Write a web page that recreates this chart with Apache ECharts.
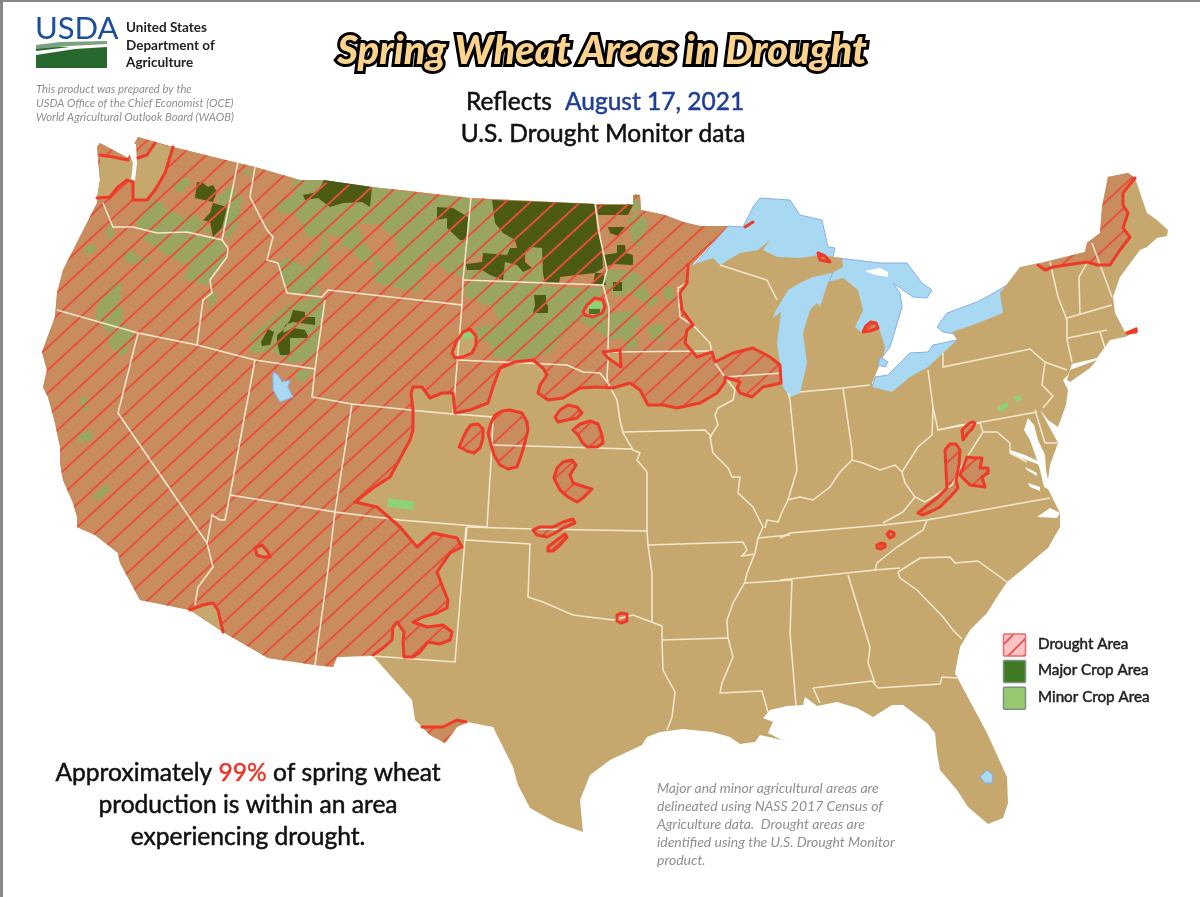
<!DOCTYPE html>
<html><head><meta charset="utf-8">
<script src="https://cdn.jsdelivr.net/npm/echarts@6/dist/echarts.min.js"></script>
<style>html,body{margin:0;padding:0;background:#fff}#c{width:1200px;height:897px}</style></head>
<body><div id="c"></div>
<script>
// ---- map geometry (map units = picture pixels) ----
const northBorder=[[173,147],[238,163],[255,167],[300,180],[400,190],[470,198],[595,204],[633,204],[635,195],[640,195],[641,210],[665,215],[683,222],[700,226],[728,226],[692,265]];
const pacificNW=[[97,203],[97,198],[100,180],[97,147],[100,143],[128,158],[133,146],[138,137]];
const droughtEdge=[[688,265],[687,283],[680,293],[682,310],[693,325],[687,330],[685,343],[697,357],[712,352],[715,362],[733,353],[753,348],[770,357],[780,365],[781,383],[763,387],[752,397],[740,393],[737,388],[740,382],[725,377],[725,382],[717,393],[700,403],[677,408],[663,405],[648,405],[640,390],[630,383],[613,388],[597,387],[580,388],[563,398],[548,400],[538,393],[540,385],[547,375],[543,368],[533,360],[515,362],[500,368],[493,387],[488,403],[470,410],[455,413],[453,393],[442,393],[430,398],[422,387],[413,387],[411,393],[413,410],[413,430],[410,440],[390,477],[373,488],[355,502],[377,507],[400,527],[417,547],[433,533],[457,538],[462,547],[450,553],[437,572],[443,588],[448,600],[447,608],[437,613],[423,617],[413,622],[427,627],[443,625],[452,632],[450,640],[440,644],[428,642],[420,652],[413,657],[404,657],[403,642],[404,632],[397,622],[393,627],[392,640],[383,648],[373,655]];
const southwestBorder=[[337,657],[333,667],[315,665],[268,658],[223,632],[190,610],[140,600],[120,563],[118,553],[95,535],[77,527],[77,517],[73,503],[63,480],[60,463],[60,447],[55,423],[48,397],[43,387],[47,370],[42,352],[55,317],[57,293],[63,270]];
const upperLakesShore=[[713,258],[720,265],[740,253],[758,250],[770,240],[763,250],[777,257],[800,258],[820,255],[842,258],[843,267],[832,273],[813,277],[800,283],[788,290],[775,312],[773,318],[781,312],[777,343],[780,363],[783,387],[790,397],[800,393],[807,363],[803,333],[810,310],[817,303],[820,307],[828,282],[843,278],[858,290],[863,310],[855,327],[862,333],[868,322],[878,325],[885,347],[883,357],[872,383],[872,387],[892,392],[910,377],[928,367],[943,353],[957,340],[952,332],[973,325],[1003,313],[1000,293],[1020,267]];
const northeastShore=[[1053,260],[1085,252],[1087,243],[1100,233],[1102,207],[1108,177],[1128,173],[1135,178],[1147,213],[1157,220],[1168,230],[1167,236],[1157,238],[1147,247],[1140,250],[1120,277],[1113,297],[1115,313],[1125,332],[1137,327],[1138,331],[1125,337],[1110,340],[1097,358],[1072,364],[1068,375],[1063,380],[1068,390],[1066,405],[1058,427],[1048,420],[1040,410],[1050,428],[1058,443],[1050,465],[1047,487],[1052,497],[1060,513],[1060,527],[1048,548],[1043,552],[1022,570],[1007,582],[997,597],[987,613],[970,630],[960,647],[955,673]];
const gulfShore=[[957,677],[987,733],[1007,777],[1008,803],[1003,818],[988,824],[968,807],[957,790],[940,770],[937,753],[935,733],[927,723],[903,705],[892,705],[873,717],[857,708],[837,702],[817,706],[805,697],[803,705],[787,706],[770,710],[763,718],[773,722],[768,733],[782,740],[760,735],[755,742],[740,744],[730,737],[712,732],[683,729],[660,732],[647,737],[642,745],[610,760],[590,775],[580,800],[583,832],[555,822],[530,808],[518,785],[513,767],[493,727],[467,722],[457,727],[445,743],[430,735],[415,720],[412,700],[397,683],[373,656]];
const longIsland=[[1067,380],[1070,370],[1097,360],[1090,368],[1070,382]];

const lakeSuperior=[[728,226],[743,227],[753,207],[760,198],[790,200],[800,215],[822,220],[828,247],[835,248],[832,262],[800,275],[720,280],[690,270]];
const lakeMichigan=[[760,270],[850,262],[850,400],[760,405]];
const lakeHuron=[[838,258],[880,263],[907,263],[922,283],[932,290],[927,298],[913,297],[893,283],[900,293],[902,307],[890,347],[880,360],[850,340],[830,280]];
const lakeErie=[[872,387],[875,377],[888,375],[910,353],[928,352],[933,345],[957,340],[945,365],[900,400],[880,395]];
const lakeOntario=[[937,327],[947,313],[977,302],[990,295],[1007,285],[1012,310],[960,335],[943,332]];
const lakeStClair=[[880,357],[888,362],[885,367],[878,365]];
const greatSaltLake=[[273,372],[278,375],[282,382],[290,380],[288,387],[293,397],[280,402],[273,390]];
const okeechobee=[[980,777],[987,770],[993,775],[992,783],[985,783]];
const manitoulin=[[865,271],[880,268],[888,272],[888,277],[875,275]];
const pugetSound=[[130,143],[136,144],[137,163],[135,180],[131,181],[133,163],[129,153]];
const chesapeake=[[1028,418],[1024,430],[1030,440],[1036,457],[1040,470],[1044,487],[1050,490],[1046,470],[1045,455],[1038,440],[1034,425]];
const potomac=[[1010,450],[1025,455],[1040,462],[1040,465],[1024,459],[1010,454]];
const yorkRiver=[[1025,467],[1037,473],[1037,476],[1027,470]];
const jamesRiver=[[1028,483],[1040,487],[1040,491],[1030,487]];
const pamlico=[[1037,517],[1050,508],[1060,513],[1057,518]];

const droughtIslands=[
 [[459,447],[463,438],[467,430],[471,425],[478,424],[483,429],[483,438],[480,448],[474,453],[467,451]],
 [[488,433],[491,423],[495,415],[502,411],[510,410],[522,413],[527,422],[528,430],[525,442],[522,453],[517,467],[508,469],[500,465],[494,455],[491,445]],
 [[555,417],[560,410],[568,405],[577,407],[582,413],[577,418],[567,420],[558,422]],
 [[573,430],[580,424],[590,421],[598,424],[602,435],[603,443],[597,447],[587,447],[582,442],[578,435]],
 [[554,478],[557,468],[563,462],[572,460],[576,465],[570,475],[573,483],[585,487],[592,489],[583,498],[577,502],[568,497],[560,490]],
 [[533,530],[540,527],[553,527],[563,522],[573,519],[575,523],[563,528],[555,533],[547,537],[537,535]],
 [[548,547],[557,540],[565,534],[567,537],[560,545],[553,551],[548,551]],
 [[617,615],[621,613],[627,614],[627,621],[621,623],[617,621]],
 [[918,513],[928,505],[937,498],[947,488],[946,470],[945,450],[950,444],[956,444],[960,450],[959,465],[956,480],[958,488],[950,497],[940,507],[930,512],[922,515]],
 [[960,475],[964,465],[967,457],[975,458],[982,458],[980,468],[988,468],[988,473],[982,477],[985,487],[977,486],[970,485]],
 [[962,430],[967,425],[972,422],[975,423],[972,429],[968,433],[963,440]],
 [[887,534],[890,531],[894,533],[894,536],[890,538]],
 [[877,545],[881,543],[885,544],[885,547],[881,549],[877,548]],
 [[863,332],[866,326],[871,322],[876,323],[878,328],[870,331]],
 [[818,253],[820,260],[830,262],[825,256]],
 [[1127,333],[1136,329],[1136,332]]
];
const droughtMaine=[[1038,265],[1053,260],[1085,252],[1087,243],[1100,233],[1102,207],[1108,177],[1128,173],[1135,178],[1123,193],[1123,205],[1128,213],[1123,228],[1130,237],[1120,250],[1110,265],[1097,265],[1087,262],[1053,267],[1045,270]];
const droughtTexas=[[422,727],[443,727],[457,720],[466,722],[457,727],[445,743],[430,735]];

const tanWashington=[[100,155],[113,157],[128,160],[138,158],[147,155],[155,143],[173,147],[165,173],[155,190],[147,200],[133,200],[133,182],[127,180],[117,188],[110,197],[97,198],[100,180]];
const tanArizonaWedge=[[190,610],[203,605],[213,603],[218,610],[223,632]];
const tanIslands=[
 [[452,353],[456,342],[463,332],[470,329],[476,336],[476,345],[472,353],[463,357],[455,358]],
 [[583,312],[587,305],[595,298],[603,300],[605,307],[602,313],[593,317],[585,315]],
 [[603,352],[620,350],[621,367],[608,358]],
 [[255,548],[262,545],[268,552],[270,557],[263,557],[257,555]]
];

const minorInDrought=[
 [[170,187],[183,175],[192,183],[180,193]],
 [[135,222],[152,200],[162,202],[165,208],[175,212],[183,218],[193,212],[207,227],[213,232],[183,232],[160,233],[140,230]],
 [[217,197],[230,187],[243,197],[237,227],[227,242]],
 [[242,170],[253,170],[250,178]],
 [[140,237],[153,233],[210,235],[225,243],[227,257],[213,277],[207,285],[198,283],[183,278],[190,267],[178,260],[163,253]],
 [[122,252],[133,250],[137,257],[150,257],[147,263],[127,263]],
 [[85,245],[97,245],[93,253],[85,255]],
 [[107,227],[113,223],[113,237],[107,240]],
 [[112,283],[122,283],[120,303],[123,313],[122,323],[135,333],[128,350],[122,357],[110,347],[108,333],[95,318],[98,303]],
 [[208,293],[217,293],[215,303],[210,310]],
 [[273,317],[290,303],[320,298],[325,303],[315,360],[290,363],[273,352],[250,353],[250,337]],
 [[240,323],[250,323],[247,333]],
 [[277,203],[290,200],[290,210]],
 [[277,260],[290,270],[290,290],[282,277]],
 [[293,180],[323,180],[373,187],[427,195],[468,198],[467,237],[463,277],[450,273],[430,260],[423,277],[417,293],[377,283],[372,273],[377,260],[365,263],[357,257],[347,247],[337,250],[327,247],[330,267],[317,280],[320,295],[293,295],[283,283],[280,263],[287,257],[305,267],[320,250],[323,237],[307,237],[300,220],[293,213],[278,213],[277,200],[293,197]],
 [[633,195],[637,194],[640,208],[633,215]],
 [[627,220],[640,212],[648,223],[640,247],[633,243]],
 [[603,270],[630,270],[643,278],[640,290],[617,297],[607,290]],
 [[467,200],[492,200],[495,223],[503,233],[515,240],[508,255],[483,253],[466,263]],
 [[505,262],[517,265],[523,272],[532,268],[525,253],[530,247],[542,248],[543,283],[503,282]],
 [[465,270],[482,270],[490,275],[503,280],[465,279]],
 [[465,282],[533,284],[553,287],[577,288],[603,287],[600,297],[607,303],[607,337],[595,330],[580,320],[567,330],[550,353],[520,360],[493,357],[490,342],[477,340],[477,327],[500,323],[493,307],[465,297]],
 [[610,313],[633,310],[642,323],[627,337],[610,340]],
 [[647,327],[663,323],[665,340],[653,343]],
 [[663,287],[673,287],[675,300],[665,300]],
 [[630,277],[643,278],[647,293],[660,300],[650,307],[630,293]],
 [[623,337],[637,330],[637,347],[627,350]],
 [[80,397],[88,397],[87,410],[82,410]],
 [[78,433],[92,430],[93,440],[78,443]],
 [[92,497],[108,483],[110,490],[98,500]],
 [[295,370],[313,370],[305,382],[297,380]]
];
const dryPatches=[
 [[357,223],[380,225],[397,242],[397,263],[383,263],[367,247]],
 [[325,235],[337,235],[345,247],[330,247]]
];
const majorInDrought=[
 [[303,195],[318,192],[324,180],[372,187],[370,207],[362,202],[343,203],[330,207],[318,198],[305,200]],
 [[437,207],[453,208],[468,217],[467,240],[460,240],[447,228],[447,218],[437,220]],
 [[268,329],[274,332],[270,345],[262,346],[261,342]],
 [[293,310],[305,312],[305,317],[315,317],[315,325],[293,322],[285,325],[283,333],[293,328],[305,330],[309,338],[290,338],[290,355],[280,355],[277,342],[277,335],[283,330],[290,320]],
 [[197,182],[203,183],[208,187],[213,185],[217,192],[213,202],[195,198]],
 [[213,203],[227,207],[222,228],[213,237],[210,222],[203,220],[210,213]],
 [[492,200],[595,204],[597,230],[602,247],[603,268],[595,273],[560,277],[559,284],[545,284],[543,273],[542,248],[530,247],[525,253],[525,262],[532,268],[523,272],[517,265],[505,262],[503,280],[490,275],[482,270],[467,270],[466,264],[482,262],[483,253],[507,255],[510,248],[517,248],[515,240],[503,233],[495,223]],
 [[595,273],[603,273],[606,285],[593,285]],
 [[597,205],[633,205],[628,215],[598,215]],
 [[608,227],[625,227],[618,236],[610,233]],
 [[617,245],[625,245],[626,253],[633,255],[633,265],[613,264],[605,267],[603,255],[617,253]],
 [[613,282],[622,282],[622,291],[613,291]],
 [[534,295],[546,295],[546,304],[548,305],[548,313],[533,313],[535,305]]
];
const minorClear=[
 [[463,333],[470,332],[473,338],[463,339]],
 [[590,303],[602,302],[602,308],[588,308]],
 [[388,498],[415,502],[413,510],[388,507]],
 [[997,407],[1008,402],[1008,407],[1000,412]],
 [[1013,397],[1020,395],[1022,400],[1017,402]]
];
const majorClear=[[[589,309],[600,309],[600,314],[589,314]]];

const stateLines=[
 [[238,162],[222,240]],
 [[103,203],[113,227],[133,227],[157,233],[187,232],[222,240],[228,248],[227,257],[210,280],[212,293],[203,300],[197,345]],
 [[255,167],[250,197],[267,230],[273,237],[267,260],[278,263],[287,293],[322,297],[328,290]],
 [[57,310],[138,333],[197,345],[255,360],[315,369],[312,397],[352,404],[430,412],[453,414],[493,417],[492,445],[487,527]],
 [[325,300],[315,369]],
 [[328,290],[400,298],[462,305],[453,413]],
 [[471,198],[463,280],[462,305]],
 [[463,280],[603,285]],
 [[595,204],[600,237],[607,270],[603,285],[607,300],[609,307],[608,352],[608,360],[607,377],[608,383],[617,400],[620,420],[623,433],[633,450],[640,453],[637,460],[647,472],[647,530],[648,545],[652,573],[652,623]],
 [[458,360],[567,365],[583,372],[600,373],[608,383]],
 [[623,432],[705,430],[712,437]],
 [[608,352],[712,351]],
 [[687,267],[687,283],[678,288],[680,317],[693,325],[710,343],[712,352],[715,363],[725,377],[735,390],[733,400],[718,408],[715,415],[718,425],[710,437],[713,453],[728,468],[732,477],[740,477],[738,493],[753,507],[758,517],[763,527],[758,538],[755,553],[747,573],[745,582],[733,603],[727,620],[728,638],[733,657],[722,683],[720,693],[762,691],[768,712]],
 [[725,377],[782,373]],
 [[720,265],[767,280],[777,300]],
 [[788,393],[790,400],[797,470],[788,500],[782,512],[778,522],[767,520],[765,528]],
 [[787,500],[800,497],[813,500],[830,487],[840,472],[852,460],[863,463],[880,470],[895,465],[902,472],[918,447],[932,435],[933,407],[928,370]],
 [[843,388],[852,450],[852,460]],
 [[800,392],[843,388],[870,385]],
 [[933,407],[938,430],[1037,412]],
 [[943,353],[943,367],[1030,349],[1045,362],[1067,370]],
 [[1045,363],[1042,385],[1053,396],[1043,408]],
 [[1050,262],[1058,297],[1067,320],[1067,340],[1072,362]],
 [[1087,263],[1079,277],[1080,315]],
 [[1092,243],[1112,297]],
 [[1067,318],[1112,305]],
 [[1068,338],[1107,330]],
 [[1100,332],[1105,348]],
 [[1035,410],[1045,443],[1057,443]],
 [[938,430],[960,425],[980,423],[983,432],[997,432],[1010,443],[1010,453],[1027,462]],
 [[915,497],[925,502],[952,485],[962,465],[983,432]],
 [[902,472],[905,483],[915,497],[903,512],[883,523]],
 [[780,538],[790,533],[883,525],[927,520],[1050,498]],
 [[927,520],[923,530],[897,547],[877,563],[875,570]],
 [[780,580],[875,570],[900,568]],
 [[898,572],[920,558],[950,557],[955,563],[978,561],[1007,582]],
 [[898,572],[900,578],[917,590],[943,617],[953,630],[962,639]],
 [[848,575],[870,647],[868,663],[875,683]],
 [[792,580],[790,633],[796,705]],
 [[813,688],[872,681],[878,688],[940,684],[942,677],[957,678]],
 [[813,688],[820,703]],
 [[662,640],[728,638]],
 [[648,545],[743,542],[747,550],[742,556],[755,554]],
 [[745,583],[792,580]],
 [[758,538],[790,535]],
 [[467,527],[466,540],[530,544],[528,597],[543,602],[573,615],[613,620],[633,615],[662,626],[662,640],[663,670],[675,692],[672,717],[667,730]],
 [[467,527],[533,529],[648,531]],
 [[492,445],[632,449]],
 [[352,404],[335,512],[400,520],[487,527]],
 [[230,495],[335,512],[328,570],[315,665]],
 [[255,360],[230,495],[225,520],[220,520],[212,515],[207,543],[213,567],[198,587],[195,605]],
 [[138,333],[118,413],[207,543]],
 [[466,527],[455,662],[373,656]]
];
const extraRedLines=[
 [[100,155],[113,157],[128,160]],
 [[138,158],[147,155],[155,143]],
 [[173,147],[165,173],[155,190],[147,200],[133,200],[133,182],[127,180],[117,188],[110,197],[97,198]],
 [[190,610],[203,605],[213,603],[218,610],[223,632]],
 [[1135,178],[1123,193],[1123,205],[1128,213],[1123,228],[1130,237],[1120,250],[1110,265],[1097,265],[1087,262],[1053,267],[1045,270],[1038,265]],
 [[422,727],[443,727],[457,720],[466,722]],
 [[745,227],[753,222]]
];

// ---- text ----
const agencyLines=['United States','Department of','Agriculture'];
const prepLines=['This product was prepared by the','USDA Office of the Chief Economist (OCE)','World Agricultural Outlook Board (WAOB)'];
const noteLines=['Major and minor agricultural areas are','delineated using NASS 2017 Census of','Agriculture data.  Drought areas are','identified using the U.S. Drought Monitor','product.'];
const summaryLines=['Approximately {r|99%} of spring wheat','production is within an area','experiencing drought.'];
const legendNames=['Drought Area','Major Crop Area','Minor Crop Area'];

// ---- colours ----
const TAN='#c6a86f',DRY='#c98c5e',OLIVE='#9aa562',DARK='#4c5a14',HATCH='#e8503a',RED='#ee3a28',WHITE_LINE='#f5e8d0';
const LAKE='#a8d8f2',LAKE_EDGE='#88aeea',BRIGHT='#8dd276',MAJOR='#3f7a22',FONT='Lato, "Open Sans", sans-serif';

function hatchTile(color,w,h,lw){
  const c=document.createElement('canvas');c.width=w;c.height=h;
  const x=c.getContext('2d');x.strokeStyle=color;x.lineWidth=lw;x.lineCap='square';
  [[0,0],[-w,0],[w,0],[0,-h],[0,h]].forEach(o=>{x.beginPath();x.moveTo(o[0],o[1]+h);x.lineTo(o[0]+w,o[1]);x.stroke();});
  return c;
}
const hatch={image:hatchTile(HATCH,25,23,2),repeat:'repeat'};
const droughtMain=northBorder.concat(droughtEdge,southwestBorder,pacificNW);
const landMain=[...pacificNW.slice(-3),...northBorder,...upperLakesShore,...northeastShore,...gulfShore,...southwestBorder,...pacificNW.slice(0,5)];

const features=[],regions=[];
function add(name,ring,style){
  features.push({type:'Feature',properties:{name},geometry:{type:'Polygon',coordinates:[ring.concat([ring[0]])]}});
  regions.push({name,silent:true,itemStyle:Object.assign({borderWidth:0,borderColor:'transparent'},style)});
}
const lakeStyle={areaColor:LAKE,borderColor:LAKE_EDGE,borderWidth:1};
[lakeSuperior,lakeMichigan,lakeHuron,lakeErie,lakeOntario].forEach((r,i)=>add('lake'+i,r,lakeStyle));
add('land',landMain,{areaColor:TAN});
add('longIsland',longIsland,{areaColor:TAN});
add('manitoulin',manitoulin,{areaColor:'#fff'});
const hatched=[droughtMain,droughtMaine,droughtTexas,...droughtIslands];
hatched.forEach((r,i)=>add('dry'+i,r,{areaColor:DRY}));
minorInDrought.forEach((r,i)=>add('minorD'+i,r,{areaColor:OLIVE}));
dryPatches.forEach((r,i)=>add('dryPatch'+i,r,{areaColor:DRY}));
majorInDrought.forEach((r,i)=>add('majorD'+i,r,{areaColor:DARK}));
hatched.forEach((r,i)=>add('hatch'+i,r,{areaColor:hatch}));
add('tanWA',tanWashington,{areaColor:TAN});
add('tanAZ',tanArizonaWedge,{areaColor:TAN});
tanIslands.forEach((r,i)=>add('tanIsland'+i,r,{areaColor:TAN}));
minorClear.forEach((r,i)=>add('minorC'+i,r,{areaColor:BRIGHT}));
majorClear.forEach((r,i)=>add('majorC'+i,r,{areaColor:MAJOR}));
[pugetSound,chesapeake,potomac,yorkRiver,jamesRiver,pamlico].forEach((r,i)=>add('water'+i,r,{areaColor:'#fff'}));
[lakeStClair,greatSaltLake,okeechobee].forEach((r,i)=>add('inland'+i,r,lakeStyle));
echarts.registerMap('usa',{type:'FeatureCollection',features});

const closed=r=>r.concat([r[0]]);
const redLines=[droughtEdge,...extraRedLines,...droughtIslands.map(closed),...tanIslands.map(closed)];

const T=(text,x,y,size,color,extra)=>({type:'text',silent:true,x,y,z:20,style:Object.assign({text,fill:color,font:`${size}px ${FONT}`,textVerticalAlign:'middle',textBaseline:'middle'},extra||{})});
const heavy=(size,color)=>({font:`${size}px ${FONT}`,stroke:color,lineWidth:0.5});
const graphics=[
 {type:'rect',silent:true,z:30,shape:{x:0,y:0,width:1200,height:2},style:{fill:'#888'}},
 {type:'rect',silent:true,z:30,shape:{x:0,y:0,width:3,height:897},style:{fill:'#888'}},
 // USDA mark
 {type:'text',silent:true,x:35,y:29,z:20,style:{text:'USDA',fill:'#1c4da1',font:`31px "Liberation Sans Narrow", ${FONT}`,textBaseline:'middle',textVerticalAlign:'middle'}},
 {type:'rect',silent:true,z:20,shape:{x:36,y:47,width:71,height:21},style:{fill:'#27682e'}},
 {type:'polygon',silent:true,z:21,shape:{points:[[36,45],[60,42],[107,41],[107,44],[70,46],[36,49]]},style:{fill:'#7ba27f'}},
 {type:'polygon',silent:true,z:21,shape:{points:[[36,51],[70,47],[107,45],[107,47],[75,49],[36,55]]},style:{fill:'#fff'}},
 T('Spring Wheat Areas in Drought',602,51,40,'#fcd38d',{font:`italic 900 40px ${FONT}`,textAlign:'center',stroke:'#000',lineWidth:6}),
 T('Reflects',466,102,24.5,'#111',heavy(24.5,'#111')),
 T('August 17, 2021',565,102,24.5,'#1f3f96',heavy(24.5,'#1f3f96')),
 T('U.S. Drought Monitor data',603,134,24.5,'#111',Object.assign(heavy(24.5,'#111'),{textAlign:'center'}))
];
agencyLines.forEach((t,i)=>graphics.push(T(t,126,28+i*17.5,13.5,'#222',{font:`bold 13.5px ${FONT}`})));
prepLines.forEach((t,i)=>graphics.push(T(t,36,89+i*14.3,11.3,'#8f8f8f',{font:`italic 11.3px ${FONT}`})));
noteLines.forEach((t,i)=>graphics.push(T(t,657,788+i*18,14,'#8f8f8f',{font:`italic 14px ${FONT}`})));
summaryLines.forEach((t,i)=>graphics.push(T(t,248,773+i*32,24.6,'#111',Object.assign(heavy(24.6,'#111'),{textAlign:'center',rich:{r:Object.assign(heavy(24.6,'#e8392a'),{fill:'#e8392a'})}}))));
const swatchFill=[{image:hatchTile('#e25050',16,16,1.6),repeat:'repeat'},MAJOR,'#97c86f'];
const swatchBorder=['#e8686c','#7f8f80','#7f8f80'];
const swatchBack=['#fbc4c4',null,null];
legendNames.forEach((t,i)=>{
  const y=634+i*26.6;
  if(swatchBack[i])graphics.push({type:'rect',silent:true,z:20,shape:{x:1003.5,y,width:22,height:22,r:1},style:{fill:swatchBack[i]}});
  graphics.push({type:'rect',silent:true,z:21,shape:{x:1003.5,y,width:22,height:22,r:1},style:{fill:swatchFill[i],stroke:swatchBorder[i],lineWidth:1.5}});
  graphics.push(T(t,1038,y+10,15.2,'#222',heavy(15.2,'#222')));
});

const chart=echarts.init(document.getElementById('c'),null,{renderer:'canvas'});
chart.setOption({
  animation:false,backgroundColor:'#fff',
  tooltip:{show:false},
  geo:{map:'usa',silent:true,roam:false,left:0,top:0,width:1200,height:897,
    aspectScale:1,zoom:1,
    projection:{project:p=>p,unproject:p=>p},
    boundingCoords:[[0,0],[1200,897]],
    label:{show:false},emphasis:{disabled:true},select:{disabled:true},
    itemStyle:{areaColor:TAN,borderWidth:0},regions},
  series:[
    {type:'lines',coordinateSystem:'geo',polyline:true,silent:true,z:3,zlevel:0,
      lineStyle:{color:WHITE_LINE,width:1.5,opacity:1,curveness:0},
      data:stateLines.map(coords=>({coords}))},
    {type:'lines',coordinateSystem:'geo',polyline:true,silent:true,z:4,
      lineStyle:{color:RED,width:3,opacity:1,curveness:0,join:'round',cap:'round'},
      data:redLines.map(coords=>({coords}))}
  ],
  graphic:{elements:graphics}
});
</script></body></html>
